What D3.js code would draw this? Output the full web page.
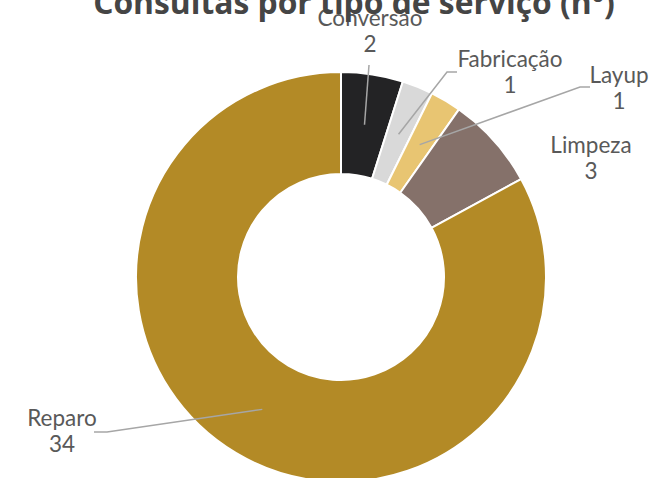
<!DOCTYPE html>
<html><head><meta charset="utf-8">
<script src="https://cdn.jsdelivr.net/npm/d3@7"></script>
<style>body{margin:0;background:#fff}svg{display:block}</style>
</head><body>
<svg id="c" width="652" height="478"></svg>
<script>
const categories = ["Conversão", "Fabricação", "Layup", "Limpeza", "Reparo"];
const values = [2, 1, 1, 3, 34];
const colors = ["#232325", "#d9d9d9", "#e8c572", "#85716a", "#b38a26"];
const title = "Consultas por tipo de serviço (nº)";

const W = 652, H = 478;
const cx = 341, cy = 277, rOuter = 205, rInner = 103;
// label layout: [labelX, labelY(first line baseline), elbowX, elbowY] per slice (null elbow = no leader)
const labelPos = [
  [370, 26, null, null],
  [510, 67, 447, 72],
  [619, 83, 580, 87],
  [591, 153, null, null],
  [62, 426, 107, 432]
];

const svg = d3.select("#c");
const g = svg.append("g").attr("transform", `translate(${cx},${cy})`);
const pie = d3.pie().sort(null).value(d => d)(values);
const arc = d3.arc().innerRadius(rInner).outerRadius(rOuter);
const mid = d3.arc().innerRadius((rInner+rOuter)/2).outerRadius((rInner+rOuter)/2);

g.selectAll("path.s").data(pie).join("path").attr("class","s")
  .attr("d", arc).attr("fill", (d,i) => colors[i])
  .attr("stroke", "#fff").attr("stroke-width", 2).attr("stroke-linejoin","round");

// leader lines
pie.forEach((d,i) => {
  const [lx, ly, ex, ey] = labelPos[i];
  const c = mid.centroid(d);
  if (i === 0) {
    svg.append("path").attr("d", `M${cx+c[0]},${cy+c[1]}L${lx-1},${ly+39}`)
      .attr("stroke","#a6a6a6").attr("stroke-width",1.5).attr("fill","none");
  } else if (ex !== null) {
    const endX = i === 4 ? ex - 13 : ex + 10;
    svg.append("path").attr("d", `M${cx+c[0]},${cy+c[1]}L${ex},${ey}L${endX},${ey}`)
      .attr("stroke","#a6a6a6").attr("stroke-width",1.5).attr("fill","none");
  }
});

// labels
const lab = svg.append("g").attr("font-family","Lato, 'Open Sans', sans-serif")
  .attr("font-size", 22.5).attr("fill","#595959").attr("text-anchor","middle");
categories.forEach((c,i) => {
  const [lx, ly] = labelPos[i];
  lab.append("text").attr("x", lx).attr("y", ly).text(c);
  lab.append("text").attr("x", lx).attr("y", ly + 26).text(values[i]);
});

// title (partially cut off at top as in reference)
const t = svg.append("text").attr("x", 354).attr("y", 14).attr("text-anchor","middle")
  .attr("font-family","'Open Sans', sans-serif").attr("font-weight","bold")
  .attr("font-size", 32).attr("fill","#454545").text(title);
const tw = t.node().getComputedTextLength();
t.attr("font-size", 32 * 522 / tw);
</script>
</body></html>
